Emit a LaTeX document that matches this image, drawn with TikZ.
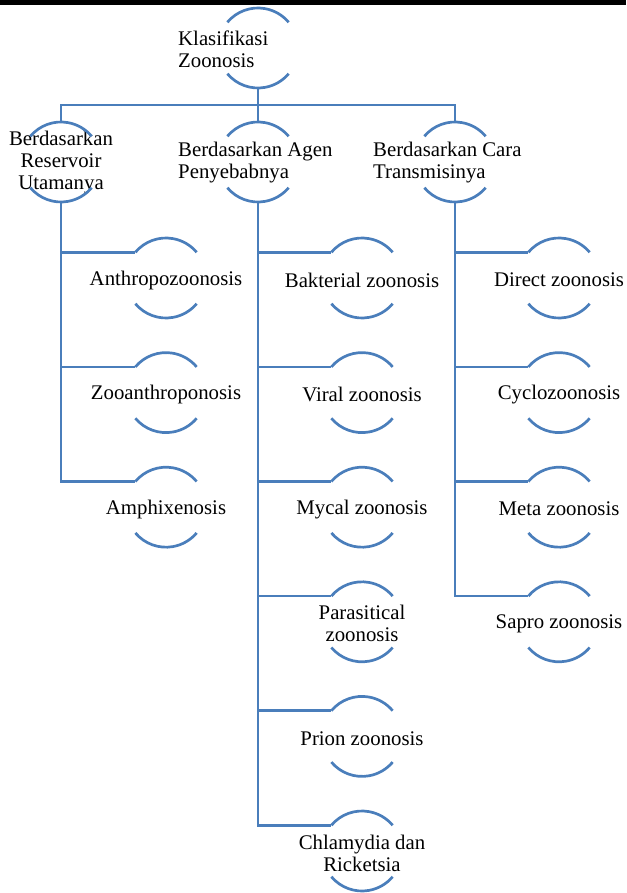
\documentclass[tikz,border=0pt]{standalone}
\usepackage{fontspec}
\setmainfont{Liberation Serif}
\definecolor{smartblue}{RGB}{74,126,187}

\begin{document}
\begin{tikzpicture}[
    x=1pt, y=1pt,
    lnk/.style={draw=smartblue, line width=2.7pt},
    ring/.style={circle, minimum size=80pt, inner sep=0pt, outer sep=0pt},
    lbl/.style={inner sep=0pt, align=center, font=\fontsize{20.8}{22}\selectfont},
    lbll/.style={lbl, align=left, anchor=west},
    ]
    \useasboundingbox (0,0) rectangle (626,-893);
    \fill[black] (0,0) rectangle (626,-5);

    \node[ring] (k0) at (258,-48) {};
    \node[lbll] at (178,-49) {Klasifikasi\\Zoonosis};

    \node[ring] (ra) at (61,-162) {};
    \node[ring] (ag) at (258,-162) {};
    \node[ring] (tr) at (455,-162) {};
    \node[lbl] at (61,-163) {Berdasarkan\\Reservoir\\Utamanya};
    \node[lbll] at (178,-163) {Berdasarkan Agen\\Penyebabnya};
    \node[lbll] at (373,-163) {Berdasarkan Cara\\Transmisinya};

    \coordinate (bus) at (258,-105);
    \draw[lnk] (k0.south) -- (bus);
    \draw[lnk] (ra.north) |- (bus) -| (tr.north);
    \draw[lnk] (bus) -- (ag.north);

    \foreach \t [count=\i] in {Anthropozoonosis, Zooanthroponosis, Amphixenosis}{
        \node[ring] (ra\i) at (166,{-278-114.6*(\i-1)}) {};
        \node[lbl] at ([yshift=-2pt]ra\i) {\t};
        \draw[lnk] (ra.south) |- (ra\i.140);
    }
    \foreach \t [count=\i] in {Bakterial zoonosis, Viral zoonosis, Mycal zoonosis,
        {Parasitical\\zoonosis}, Prion zoonosis, {Chlamydia dan\\Ricketsia}}{
        \node[ring] (ag\i) at (362,{-278-114.6*(\i-1)}) {};
        \node[lbl] at ([yshift=-2pt]ag\i) {\t};
        \draw[lnk] (ag.south) |- (ag\i.140);
    }
    \foreach \t [count=\i] in {Direct zoonosis, Cyclozoonosis, Meta zoonosis, Sapro zoonosis}{
        \node[ring] (tr\i) at (559,{-278-114.6*(\i-1)}) {};
        \node[lbl] at ([yshift=-2pt]tr\i) {\t};
        \draw[lnk] (tr.south) |- (tr\i.140);
    }

    \foreach \n in {k0,ra,ag,tr,ra1,ra2,ra3,ag1,ag2,ag3,ag4,ag5,ag6,tr1,tr2,tr3,tr4}{
        \draw[lnk] (\n.140) arc[start angle=140, end angle=40, radius=40pt];
        \draw[lnk] (\n.220) arc[start angle=220, end angle=320, radius=40pt];
    }
\end{tikzpicture}
\end{document}
